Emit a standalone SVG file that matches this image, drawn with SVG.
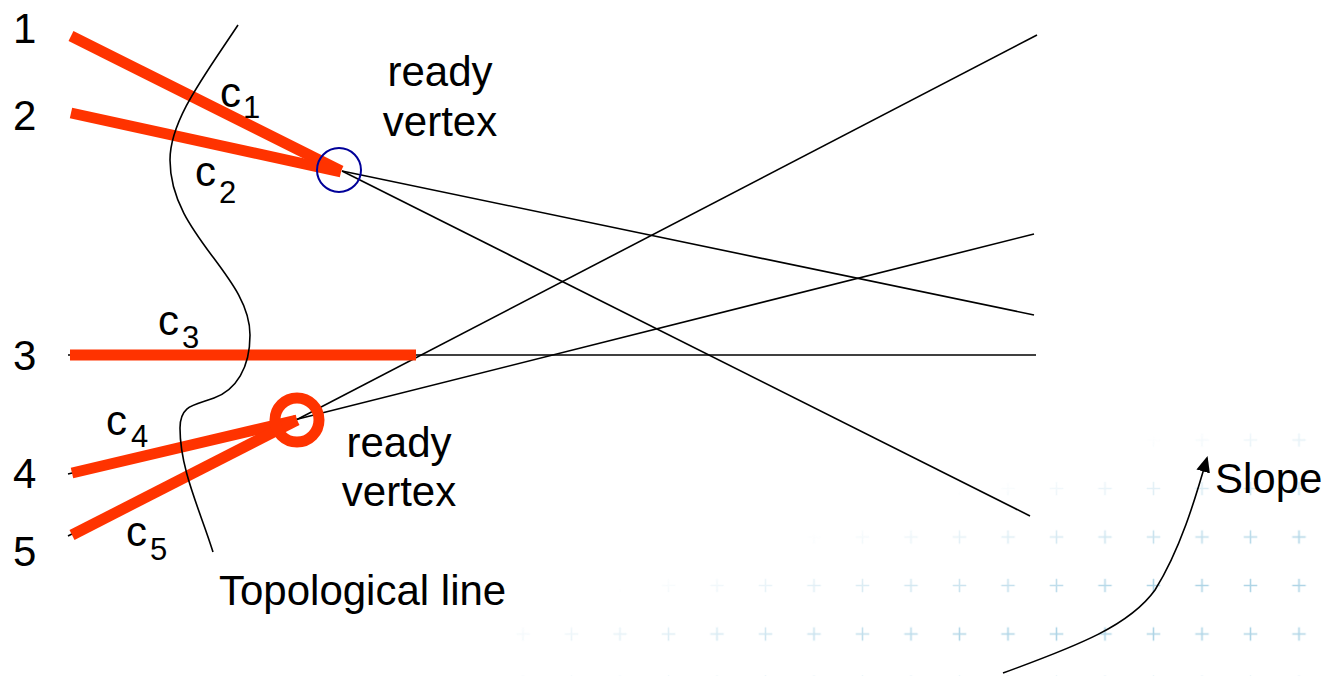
<svg xmlns="http://www.w3.org/2000/svg" width="1330" height="676" viewBox="0 0 1330 676">
<style>
text { font-family: "Liberation Sans", Arial, sans-serif; fill: #000; }
.lbl { font-size: 42px; }
.sub { font-size: 31px; }
.thin { stroke: #000; stroke-width: 1.6; fill: none; }
.red { stroke: #ff3300; stroke-width: 11; fill: none; stroke-linecap: butt; }
</style>
<defs>
<pattern id="plus" patternUnits="userSpaceOnUse" x="983.75" y="512.75" width="48.5" height="48.5">
<path d="M24.25,17.5 V31 M17.5,24.25 H31" stroke="#9ccbe0" stroke-width="1.6" fill="none"/>
</pattern>
<linearGradient id="fade" gradientUnits="userSpaceOnUse" x1="855" y1="520" x2="895" y2="660">
<stop offset="0" stop-color="#fff" stop-opacity="0"/>
<stop offset="1" stop-color="#fff" stop-opacity="1"/>
</linearGradient>
<mask id="fadeMask">
<rect x="0" y="0" width="1330" height="676" fill="url(#fade)"/>
</mask>
<marker id="arrow" markerWidth="16" markerHeight="14" refX="14" refY="7" orient="auto" markerUnits="userSpaceOnUse" viewBox="0 0 16 14">
<path d="M0,0 L16,7 L0,14 Z" fill="#000"/>
</marker>
</defs>
<rect width="1330" height="676" fill="#fff"/>
<g id="background">
<rect x="500" y="400" width="830" height="276" fill="url(#plus)" mask="url(#fadeMask)" opacity="0.8"/>
</g>
<g id="connectors">
<line class="thin" x1="342" y1="171" x2="1034" y2="315"/>
<line class="thin" x1="342" y1="171" x2="1030" y2="516"/>
<line class="thin" x1="68" y1="355" x2="1036" y2="355"/>
<line class="thin" x1="298" y1="419" x2="1037" y2="35"/>
<line class="thin" x1="298" y1="419" x2="1034" y2="234"/>
<line class="thin" x1="68" y1="474" x2="298" y2="419"/>
<line class="thin" x1="68" y1="536" x2="298" y2="419"/>
<line class="red" x1="71" y1="36" x2="341" y2="171"/>
<line class="red" x1="71" y1="113" x2="341" y2="172"/>
<line class="red" x1="70" y1="355" x2="416" y2="355"/>
<line class="red" x1="72" y1="473" x2="297" y2="420"/>
<line class="red" x1="72" y1="535" x2="297" y2="420"/>
</g>
<g id="topological-line">
<path class="thin" d="M238,25 C205,75 170,120 170,160 C170,235 250,275 250,335 C250,368 236,390 214,398 C196,405 180,404 180,428 C180,470 200,510 213,552"/>
<text class="lbl" x="219" y="605">Topological line</text>
</g>
<g id="vertex-top">
<circle cx="339" cy="170" r="22" fill="none" stroke="#000099" stroke-width="2"/>
<text class="lbl" x="440" y="86" text-anchor="middle">ready</text>
<text class="lbl" x="440" y="136" text-anchor="middle">vertex</text>
</g>
<g id="vertex-bottom">
<circle cx="297" cy="420" r="22" fill="none" stroke="#ff3300" stroke-width="11"/>
<text class="lbl" x="399" y="457" text-anchor="middle">ready</text>
<text class="lbl" x="399" y="506" text-anchor="middle">vertex</text>
</g>
<g id="input-labels">
<text class="lbl" x="13" y="43">1</text>
<text class="lbl" x="13" y="130">2</text>
<text class="lbl" x="13" y="370">3</text>
<text class="lbl" x="13" y="488">4</text>
<text class="lbl" x="13" y="566">5</text>
</g>
<g id="edge-labels">
<text class="lbl" x="220" y="107">c</text><text class="sub" x="243" y="118">1</text>
<text class="lbl" x="195" y="186">c</text><text class="sub" x="219" y="203">2</text>
<text class="lbl" x="158" y="335">c</text><text class="sub" x="182" y="348">3</text>
<text class="lbl" x="106" y="435">c</text><text class="sub" x="131" y="447">4</text>
<text class="lbl" x="126" y="546">c</text><text class="sub" x="150" y="560">5</text>
</g>
<g id="slope">
<path class="thin" d="M1003,673 C1080,645 1130,625 1155,590 C1180,550 1195,500 1207,458" marker-end="url(#arrow)"/>
<text class="lbl" x="1215" y="493">Slope</text>
</g>
</svg>
